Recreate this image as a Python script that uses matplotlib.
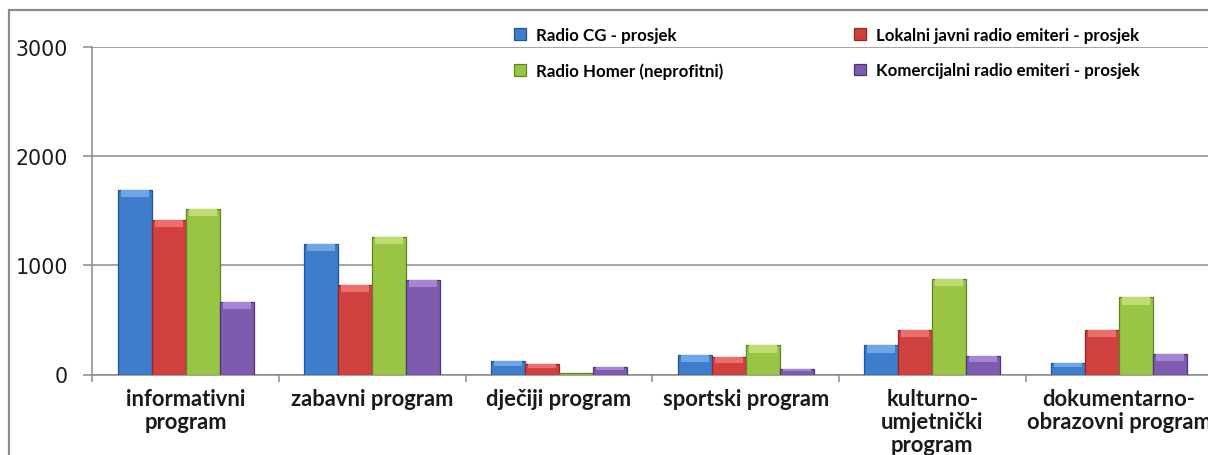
import numpy as np
import matplotlib.pyplot as plt
from matplotlib.patches import Rectangle


# PODACI
kategorije = ['informativni\nprogram', 'zabavni program', 'dječiji program',
              'sportski program', 'kulturno-\numjetnički\nprogram',
              'dokumentarno-\nobrazovni program']

radio_cg = [1690, 1198, 123, 183, 266, 110]
lokalni = [1418, 822, 92, 162, 410, 410]
homer = [1516, 1259, 18, 266, 880, 706]
komercijalni = [663, 868, 70, 49, 171, 192]

serije = ['Radio CG - prosjek', 'Lokalni javni radio emiteri - prosjek',
          'Radio Homer (neprofitni)', 'Komercijalni radio emiteri - prosjek']

# boje: lice, rub, svijetli vrh
boje = [('#3d7dcb', '#24548f', '#6fa6e6'),
        ('#cf403e', '#8f2826', '#eb6f6d'),
        ('#9ac544', '#62822a', '#bedd6e'),
        ('#7d5bae', '#4d3773', '#a585d2')]

W, H = 1208, 456
fig = plt.figure(figsize=(W/100, H/100), dpi=100)
ax = fig.add_axes([92.3/W, (H-375.5)/H, 1120/W, (375.5-48.3)/H])

x = np.arange(len(kategorije))
w = 0.182
rucke = []
for i, (vals, ime) in enumerate(zip([radio_cg, lokalni, homer, komercijalni], serije)):
    vals = np.array(vals, dtype=float)
    pos = x + (i - 1.5)*w
    b = ax.bar(pos, vals, w, color=boje[i][0], edgecolor=boje[i][1],
               linewidth=0.9, zorder=3, label=ime)
    # svjetliji vrh (bevel)
    traka = np.minimum(65, vals*0.35)
    ax.bar(pos, traka, w*0.82, bottom=vals-traka, color=boje[i][2],
           linewidth=0, zorder=4)
    rucke.append(b)

ax.set_xlim(-0.5, 5.5)
ax.set_ylim(0, 3000)
ax.set_yticks([0, 1000, 2000, 3000])
ax.yaxis.grid(True, color='#8a8a8a', linewidth=1.1, zorder=0)

for s in ['top', 'right']:
    ax.spines[s].set_visible(False)
for s in ['left', 'bottom']:
    ax.spines[s].set_color('#8a8a8a')
    ax.spines[s].set_linewidth(1.1)

ax.tick_params(axis='y', length=6.5, width=1.1, color='#8a8a8a', pad=11,
               labelsize=14.8, labelcolor='#1a1a1a')
for t in ax.get_yticklabels():
    t.set_fontfamily('DejaVu Sans')

# granice kategorija kao glavne crtice, nazivi na sredini
ax.set_xticks(np.arange(-0.5, 6, 1))
ax.set_xticklabels([])
ax.tick_params(axis='x', which='major', length=5, width=1.1, color='#8a8a8a',
               direction='out')
ax.set_xticks(x, minor=True)
ax.set_xticklabels(kategorije, minor=True, fontsize=15.8, fontfamily='Lato',
                   fontweight='bold', color='#1a1a1a', linespacing=1.12)
ax.tick_params(axis='x', which='minor', length=0, pad=10)

# legenda u dva stupca
leg_kw = dict(frameon=False, handlelength=0.7, handleheight=0.7,
              handletextpad=0.6, labelspacing=1.15, borderaxespad=0,
              borderpad=0, loc='upper left',
              prop={'family': 'Lato', 'weight': 'bold', 'size': 12.2})
l1 = fig.legend([rucke[0], rucke[2]], [serije[0], serije[2]],
                bbox_to_anchor=(514/W, 1 - 28/H), **leg_kw)
l2 = fig.legend([rucke[1], rucke[3]], [serije[1], serije[3]],
                bbox_to_anchor=(854/W, 1 - 28/H), **leg_kw)

# okvir grafikona
fig.patches.append(Rectangle((9/W, -0.1), 1.2, (H-11)/H + 0.1,
                             transform=fig.transFigure, fill=False,
                             edgecolor='#8c8c8c', linewidth=1.6))

fig.savefig('out.png', dpi=100)
